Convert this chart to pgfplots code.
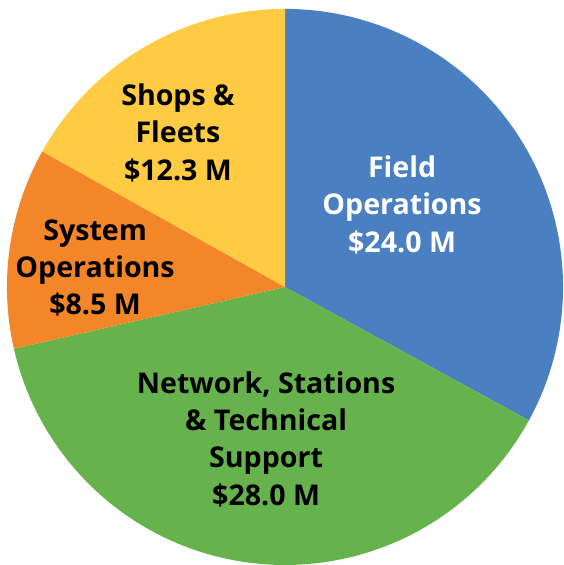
\documentclass[border=0pt]{standalone}
\usepackage{pgfplots}
\pgfplotsset{compat=1.18}
\usepackage{fontspec}
\setmainfont{Open Sans}

\definecolor{fieldblue}{HTML}{4A7FC1}
\definecolor{netgreen}{HTML}{66B24C}
\definecolor{sysorange}{HTML}{F4862A}
\definecolor{shopyellow}{HTML}{FFCB42}

% budget per slice, $M, clockwise from 12 o'clock
\def\vField{24.0}
\def\vNet{28.0}
\def\vSys{8.5}
\def\vShop{12.3}

\begin{document}
\begin{tikzpicture}
\pgfmathsetmacro{\tot}{\vField+\vNet+\vSys+\vShop}
\pgfmathsetmacro{\aA}{90}
\pgfmathsetmacro{\aB}{\aA-360*\vField/\tot}
\pgfmathsetmacro{\aC}{\aB-360*\vNet/\tot}
\pgfmathsetmacro{\aD}{\aC-360*\vSys/\tot}
\pgfmathsetmacro{\aE}{\aD-360*\vShop/\tot}
\begin{axis}[
  scale only axis,
  width=8.1cm, height=8.128cm,
  xmin=-1.025, xmax=1.0,
  ymin=-1.0, ymax=1.032,
  hide axis,
  clip=false,
  samples=90,
  font=\bfseries\fontsize{11.7}{15.3}\selectfont]
% invisible frame so the page keeps the reference margins
\addplot[draw=none, mark=none] coordinates {(-1.025,-1.0) (1.0,1.032)};
\addplot[draw=none, fill=fieldblue, domain=\aB:\aA, variable=\t]
  ({cos(\t)},{sin(\t)}) -- (axis cs:0,0) -- cycle;
\addplot[draw=none, fill=netgreen, domain=\aC:\aB, variable=\t]
  ({cos(\t)},{sin(\t)}) -- (axis cs:0,0) -- cycle;
\addplot[draw=none, fill=sysorange, domain=\aD:\aC, variable=\t]
  ({cos(\t)},{sin(\t)}) -- (axis cs:0,0) -- cycle;
\addplot[draw=none, fill=shopyellow, domain=\aE:\aD, variable=\t]
  ({cos(\t)},{sin(\t)}) -- (axis cs:0,0) -- cycle;

\node[white, align=center] at (axis cs:0.421,0.295) {Field\\Operations\\\$24.0 M};
\node[black, align=center] at (axis cs:-0.068,-0.547) {Network, Stations\\\& Technical\\Support\\\$28.0 M};
\node[black, align=center] at (axis cs:-0.683,0.068) {System\\Operations\\\$8.5 M};
\node[black, align=center] at (axis cs:-0.385,0.554) {Shops \&\\Fleets\\\$12.3 M};
\end{axis}
\end{tikzpicture}
\end{document}
